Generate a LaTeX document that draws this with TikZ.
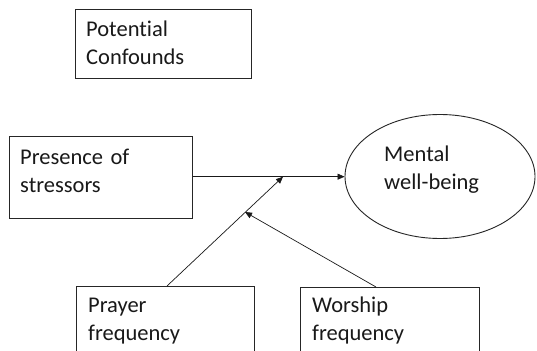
\documentclass[tikz,border=0pt]{standalone}
\usepackage{fontspec}
\setmainfont[Ligatures={NoCommon}]{Carlito}
\usetikzlibrary{shapes.geometric,arrows.meta,calc}
\begin{document}
\begin{tikzpicture}[x=1pt,y=-1pt,
  box/.style={draw=black!85, line width=0.9pt, rectangle, anchor=north west, inner sep=0pt},
  txt/.style={anchor=base west, inner sep=0pt, align=left, text width=170pt,
    font=\fontsize{22.5}{28}\selectfont, text=black!90},
  conn/.style={draw=black!90, line width=0.7pt},
  arr/.style={conn, -{Triangle[length=7pt,width=6pt]}}]
\clip (0,0) rectangle (537,350);
\useasboundingbox (0,0) rectangle (537,350);
\fill[white] (0,0) rectangle (537,350);
% boxes
\node[box, minimum width=176pt, minimum height=69pt] (pc) at (75,9) {};
\node[box, minimum width=183pt, minimum height=82pt] (ps) at (9,136) {};
\node[draw=black!85, line width=0.9pt, ellipse, minimum width=190pt, minimum height=124pt, inner sep=0pt] (mw) at (440,176.5) {};
\node[box, minimum width=178pt, minimum height=90pt] (pf) at (76,286) {};
\node[box, minimum width=179pt, minimum height=90pt] (wf) at (300,287) {};
% texts
\node[txt] (pct) at (86,37) {Potential\\Confounds};
\node[txt] (pst) at (20,164) {Presence of\\stressors};
\node[txt] (mwt) at (384,161) {Mental\\well-being};
\node[txt] (pft) at (88,312) {Prayer\\frequency};
\node[txt] (wft) at (312,312) {Worship\\frequency};
% connector points
\coordinate (psout) at (ps.east |- 0,176.7);
\coordinate (mwin) at (mw.west |- 0,176.7);
\coordinate (m1) at (283,176.7);
\coordinate (m2) at (245,212);
\coordinate (pfout) at (167,286);
\coordinate (wfout) at (376,287);
% connectors
\draw[arr] (psout) -- (mwin);
\draw[arr] (pfout) -- (m1);
\draw[arr] (wfout) -- (m2);
\end{tikzpicture}
\end{document}
